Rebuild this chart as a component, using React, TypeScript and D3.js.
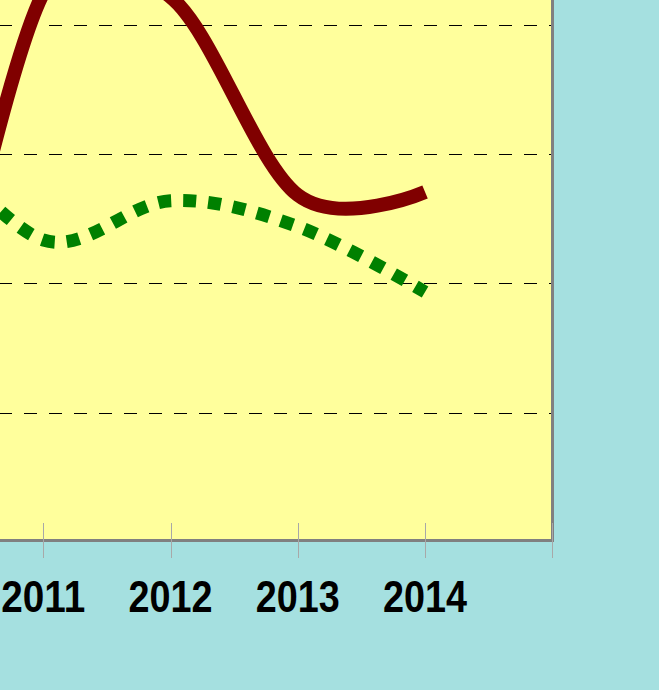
import React from "react";
import * as d3 from "d3";

const years = [2010, 2011, 2012, 2013, 2014];
const redSeries = [4.33, 42.47, 42.16, 26.84, 27.08];
const greenSeries = [32.65, 23.36, 26.4, 24.4, 19.34];
const gridValues = [10, 20, 30, 40];
const tickYears = [2010, 2011, 2012, 2013, 2014, 2015];
const labelYears = [2011, 2012, 2013, 2014];

const W = 659;
const H = 690;

export default function App() {
  const x = d3.scaleLinear().domain([2011, 2015]).range([43.3, 552.3]);
  const y = d3.scaleLinear().domain([0, 50]).range([542, 542 - 50 * 12.927]);

  const plotLeft = -400;
  const plotTop = -400;
  const plotRight = 551;
  const plotBottom = 539;

  const line = d3
    .line<number>()
    .x((_, i) => x(years[i]))
    .y((d) => y(d))
    .curve(d3.curveCardinal.tension(0));

  return (
    <svg
      width={W}
      height={H}
      style={{ position: "absolute", left: 0, top: 0, display: "block" }}
    >
      <rect x={0} y={0} width={W} height={H} fill="#A5E0E0" />
      <defs>
        <clipPath id="plotClip">
          <rect x={plotLeft} y={plotTop} width={plotRight - plotLeft} height={plotBottom - plotTop} />
        </clipPath>
      </defs>
      <rect
        x={plotLeft}
        y={plotTop}
        width={plotRight - plotLeft}
        height={plotBottom - plotTop}
        fill="#FFFF9C"
      />
      {gridValues.map((v) => (
        <line
          key={v}
          x1={-1}
          x2={plotRight}
          y1={Math.round(y(v)) + 0.5}
          y2={Math.round(y(v)) + 0.5}
          stroke="#000"
          strokeWidth={1}
          strokeDasharray="13 12"
        />
      ))}
      <g clipPath="url(#plotClip)">
        <path
          d={line(greenSeries) || ""}
          fill="none"
          stroke="#008000"
          strokeWidth={13}
          strokeDasharray="13 12"
        />
        <path
          d={line(redSeries) || ""}
          fill="none"
          stroke="#800000"
          strokeWidth={14}
        />
      </g>
      <line x1={plotLeft} x2={plotRight + 3} y1={540.5} y2={540.5} stroke="#808080" strokeWidth={3} />
      <line x1={plotRight + 1.5} x2={plotRight + 1.5} y1={plotTop} y2={542} stroke="#808080" strokeWidth={3} />
      {tickYears.map((t) => (
        <line
          key={t}
          x1={Math.round(x(t)) + 0.5}
          x2={Math.round(x(t)) + 0.5}
          y1={523}
          y2={558}
          stroke="#A8A8A8"
          strokeWidth={1}
        />
      ))}
      {labelYears.map((t) => (
        <text
          key={t}
          x={x(t)}
          y={612}
          textAnchor="middle"
          fontFamily="'Liberation Sans', Arial, sans-serif"
          fontWeight="bold"
          fontSize={44}
          textLength={84}
          lengthAdjust="spacingAndGlyphs"
          fill="#000"
        >
          {t}
        </text>
      ))}
    </svg>
  );
}
